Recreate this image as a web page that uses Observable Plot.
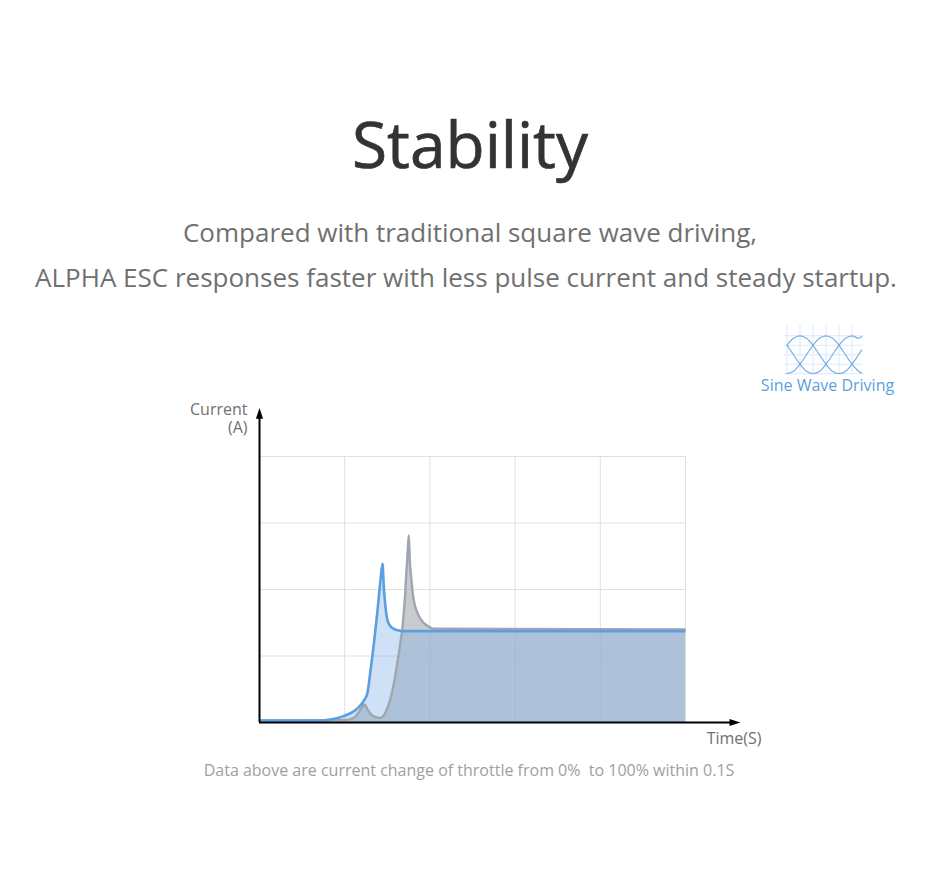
<!DOCTYPE html>
<html><head><meta charset="utf-8">
<script src="https://cdn.jsdelivr.net/npm/d3@7"></script>
<script src="https://cdn.jsdelivr.net/npm/@observablehq/plot@0.6"></script>
<style>
html,body{margin:0;padding:0;background:#fff;width:940px;height:881px;overflow:hidden;font-family:"Open Sans",sans-serif}
#page{position:relative;width:940px;height:881px}
.t{position:absolute;left:0;width:940px;text-align:center;white-space:nowrap}
#chart{position:absolute;left:0;top:320px}
#icon{position:absolute;left:780px;top:322px}
</style></head><body><div id="page">
<div class="t" style="top:102px;font-size:64px;line-height:84px;color:#333;-webkit-text-stroke:.7px #333">Stability</div>
<div class="t" style="top:210px;font-size:26px;line-height:44px;color:#707070;left:0">Compared with traditional square wave driving,</div>
<div class="t" style="top:255px;font-size:26px;line-height:44px;color:#707070;left:-4px">ALPHA ESC responses faster with less pulse current and steady startup.</div>
<div class="t" style="top:760px;font-size:16px;line-height:20px;color:#a0a0a0;left:-1px">Data above are current change of throttle from 0%&nbsp; to 100% within 0.1S</div>
<div class="t" style="top:374px;left:760px;width:135px;font-size:16px;line-height:22px;color:#5b9fe0">Sine Wave Driving</div>
<div id="chart"></div><div id="icon"></div>
</div>
<script>
const blueTime=[0,.4,.7,.833,.951,1.068,1.166,1.225,1.264,1.283,1.303,1.342,1.381,1.42,1.444,1.459,1.479,1.498,1.53,1.577,1.635,1.694,5];
const blueCurrent=[.03,.03,.03,.045,.08,.14,.23,.33,.43,.58,.78,1.18,1.634,2.136,2.386,2.035,1.735,1.559,1.459,1.409,1.384,1.374,1.374];
const greyTime=[0,.5,1.03,1.107,1.166,1.205,1.232,1.264,1.303,1.362,1.42,1.459,1.498,1.537,1.577,1.616,1.655,1.686,1.71,1.725,1.741,1.753,1.764,1.78,1.8,1.819,1.843,1.87,1.909,1.948,1.995,2.046,5];
const greyCurrent=[.03,.03,.04,.07,.155,.23,.27,.206,.13,.08,.07,.105,.206,.356,.582,.882,1.208,1.534,1.935,2.286,2.612,2.812,2.436,2.186,1.935,1.785,1.684,1.6,1.524,1.474,1.434,1.409,1.40];
const timeGrid=[1,2,3,4,5];
const currentGrid=[1,2,3,4];
const xLabel="Time(S)";
const yLabel="Current\n(A)";
const blue=blueTime.map((t,i)=>({t,c:blueCurrent[i]}));
const grey=greyTime.map((t,i)=>({t,c:greyCurrent[i]}));
const ink="#000";
const head={draw(ctx,size){const r=Math.sqrt(size/Math.PI);ctx.moveTo(0,-r*1.2);ctx.lineTo(r*.8,r*1.2);ctx.lineTo(-r*.8,r*1.2);ctx.closePath();}};
const chart=Plot.plot({
  width:940,height:480,margin:0,
  style:{background:"transparent",fontFamily:"'Open Sans',sans-serif"},
  x:{domain:[0,5],range:[259,685],axis:null},
  y:{domain:[0,4],range:[402,136],axis:null},
  marks:[
    Plot.ruleX(timeGrid,{x:d=>d,y1:0,y2:4,stroke:"#e0e0e0",strokeWidth:1}),
    Plot.ruleY(currentGrid,{y:d=>d,x1:0,x2:5,stroke:"#e0e0e0",strokeWidth:1}),
    Plot.areaY(grey,{x:"t",y:"c",fill:"#aab0b7",fillOpacity:.65,curve:"monotone-x"}),
    Plot.areaY(blue,{x:"t",y:"c",fill:"rgb(129,176,231)",fillOpacity:.38,curve:"monotone-x"}),
    Plot.line(grey,{x:"t",y:"c",stroke:"#a0a6ae",strokeWidth:2.4,curve:"monotone-x",strokeLinecap:"butt"}),
    Plot.line(blue,{x:"t",y:"c",stroke:"#5b9fe0",strokeWidth:2.6,curve:"monotone-x",strokeLinecap:"butt"}),
    Plot.ruleX([0],{y1:0,y2:4.6,stroke:ink,strokeWidth:2}),
    Plot.ruleY([0],{x1:0,x2:5.55,stroke:ink,strokeWidth:2}),
    Plot.dot([{t:0,c:4.65}],{x:"t",y:"c",symbol:head,r:4.5,fill:ink}),
    Plot.dot([{t:5.58,c:0}],{x:"t",y:"c",symbol:head,r:4.5,fill:ink,rotate:90}),
    Plot.text([yLabel],{x:0,y:4.65,dx:-12,dy:5,text:d=>d,textAnchor:"end",fontSize:16,lineHeight:1.125,fill:"#707070"}),
    Plot.text([xLabel],{x:5.892,y:0,dy:16,text:d=>d,textAnchor:"end",fontSize:16,fill:"#707070"})
  ]
});
document.getElementById("chart").append(chart);

const phase=[0,1,2,3,4,5,6,7,8,9,10,11,11.5];
const waveA=[.5,.87,1,.87,.5,0,-.5,-.87,-1,-.87,-.5,0,.26];
const waveB=[-1,-.87,-.5,0,.5,.87,1,.87,.5,0,-.5,-.87,-.97];
const waveC=[.5,0,-.5,-.87,-1,-.87,-.5,0,.5,.87,1,.87,.97];
const iconV=[0,2,4,6,8,10];
const iconH=[-1,-.5,0,.5,1];
const wave=w=>phase.map((p,i)=>({p,v:w[i]}));
const icon=Plot.plot({
  width:90,height:56,margin:0,
  style:{background:"transparent"},
  x:{domain:[0,12],range:[6.5,84.5],axis:null},
  y:{domain:[-1,1],range:[51.2,13.3],axis:null},
  marks:[
    Plot.ruleX(iconV,{x:d=>d,y1:-1.05,y2:1.55,stroke:"#dbe9f8",strokeWidth:1}),
    Plot.ruleY(iconH,{y:d=>d,x1:-.4,x2:11.7,stroke:"#dbe9f8",strokeWidth:1}),
    ...[waveA,waveB,waveC].map(w=>Plot.line(wave(w),{x:"p",y:"v",stroke:"#74afe6",strokeWidth:1.2,curve:"catmull-rom"}))
  ]
});
document.getElementById("icon").append(icon);
</script></body></html>
